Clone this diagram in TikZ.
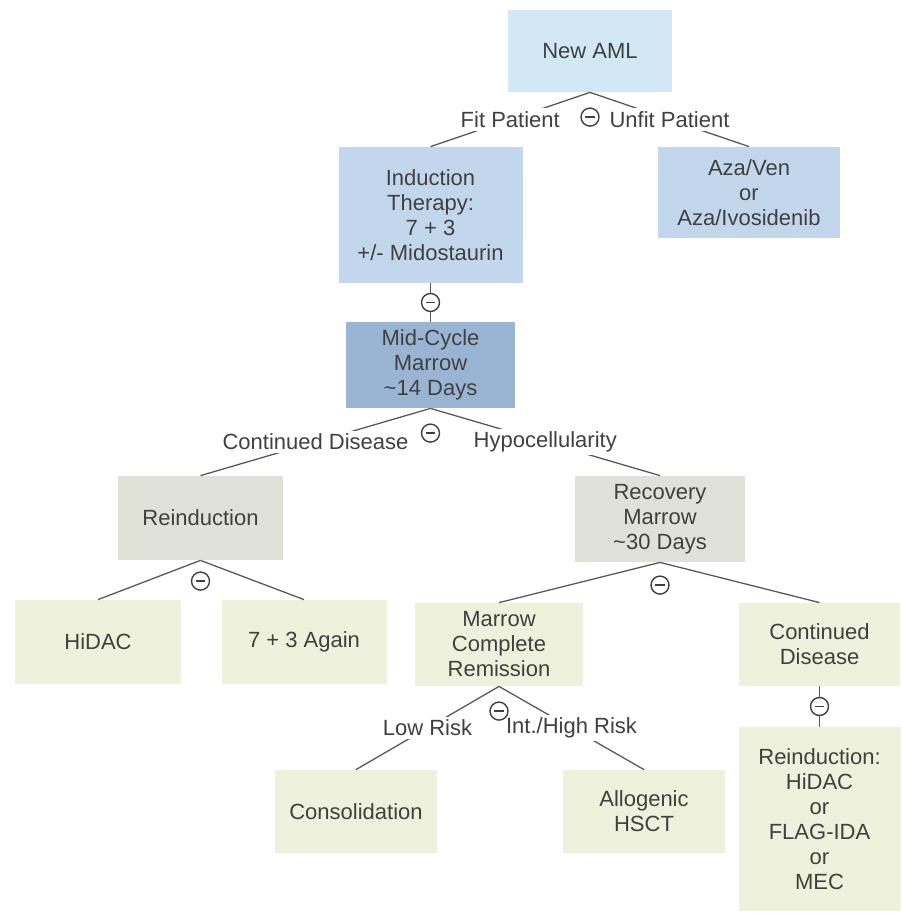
\documentclass[tikz,border=0pt]{standalone}
\usepackage{fontspec}
\setmainfont{Liberation Sans}
\usepackage{tikz}
\usetikzlibrary{positioning}
\definecolor{amlblue}{HTML}{D2E9F5}
\definecolor{indblue}{HTML}{C3D7EC}
\definecolor{midblue}{HTML}{9AB5D3}
\definecolor{graybox}{HTML}{E0E2DA}
\definecolor{greenbox}{HTML}{EEF1DC}
\definecolor{txtgray}{HTML}{404040}
\definecolor{linegray}{HTML}{595959}
\tikzset{
    box/.style={
        rectangle,
        align=center,
        inner sep=0pt,
        text=txtgray,
        font=\fontsize{11}{12.5}\selectfont,
        minimum width=82pt,
        minimum height=42pt
    },
    conn/.style={
        draw=linegray,
        line width=0.65pt
    },
    lbl/.style={
        fill=white,
        inner sep=1.5pt,
        text=txtgray,
        font=\fontsize{11}{12.5}\selectfont
    },
    minus/.style={
        circle,
        draw=txtgray,
        fill=white,
        line width=0.7pt,
        minimum size=9pt,
        inner sep=0pt,
        path picture={
            \draw[txtgray, line width=0.8pt]
              ([xshift=-2.3pt]path picture bounding box.center) --
              ([xshift=2.3pt]path picture bounding box.center);
        }
    }
}
\begin{document}
\begin{tikzpicture}[x=0.5pt,y=-0.5pt]
  \useasboundingbox (0,0) rectangle (901,913);
  % boxes
  \node[box, fill=amlblue, minimum height=41pt] (aml) at (590,51) {New AML};
  \node[box, fill=indblue, minimum width=92pt, minimum height=68pt] (ind) at (430.5,215)
    {Induction\\Therapy:\\7 + 3\\+/- Midostaurin};
  \node[box, fill=indblue, minimum width=91pt, minimum height=45.5pt] (aza) at (749,192.5)
    {Aza/Ven\\or\\Aza/Ivosidenib};
  \node[box, fill=midblue, minimum width=84.5pt, minimum height=43pt] (mid) at (430.5,365)
    {Mid-Cycle\\Marrow\\\textasciitilde14 Days};
  \node[box, fill=graybox, minimum width=82.5pt] (reind) at (200.5,518) {Reinduction};
  \node[box, fill=graybox, minimum width=85pt, minimum height=43pt] (recov) at (660,519)
    {Recovery\\Marrow\\\textasciitilde30 Days};
  \node[box, fill=greenbox, minimum width=83pt] (hidac) at (98,642) {HiDAC};
  \node[box, fill=greenbox, minimum width=82.5pt] (again) at (304,642) {7 + 3 Again};
  \node[box, fill=greenbox, minimum width=84pt, minimum height=41.5pt] (mcr) at (499,644.5)
    {Marrow\\Complete\\Remission};
  \node[box, fill=greenbox, minimum width=80.5pt, minimum height=41.5pt] (contd) at (819.5,644.5)
    {Continued\\Disease};
  \node[box, fill=greenbox, minimum width=81pt, minimum height=41.5pt] (consol) at (356,811.5)
    {Consolidation};
  \node[box, fill=greenbox, minimum width=81pt, minimum height=41.5pt] (hsct) at (644,811.5)
    {Allogenic\\HSCT};
  \node[box, fill=greenbox, minimum width=81pt, minimum height=92pt] (reind2) at (819.5,819)
    {Reinduction:\\HiDAC\\or\\FLAG-IDA\\or\\MEC};

  % connectors
  \draw[conn] (aml.south) -- node[lbl] {Fit Patient} (ind.north);
  \draw[conn] (aml.south) -- node[lbl] {Unfit Patient} (aza.north);
  \draw[conn] (ind.south) -- node[minus] (m2) {} (mid.north);
  \draw[conn] (mid.south) -- node[lbl] {Continued Disease} (reind.north);
  \draw[conn] (mid.south) -- node[lbl] {Hypocellularity} (recov.north);
  \draw[conn] (reind.south) -- (hidac.north);
  \draw[conn] (reind.south) -- (again.north);
  \draw[conn] (recov.south) -- (mcr.north);
  \draw[conn] (recov.south) -- (contd.north);
  \draw[conn] (mcr.south) -- node[lbl] {Low Risk} (consol.north);
  \draw[conn] (mcr.south) -- node[lbl] {Int./High Risk} (hsct.north);
  \draw[conn] (contd.south) -- node[minus] (m7) {} (reind2.north);

  % decision marks
  \node[minus, below=7.5pt of aml] (m1) {};
  \node[minus, below=7.5pt of mid] (m3) {};
  \node[minus, below=5.5pt of reind] (m4) {};
  \node[minus, below=6.5pt of recov] (m5) {};
  \node[minus, below=7.5pt of mcr] (m6) {};
\end{tikzpicture}
\end{document}
